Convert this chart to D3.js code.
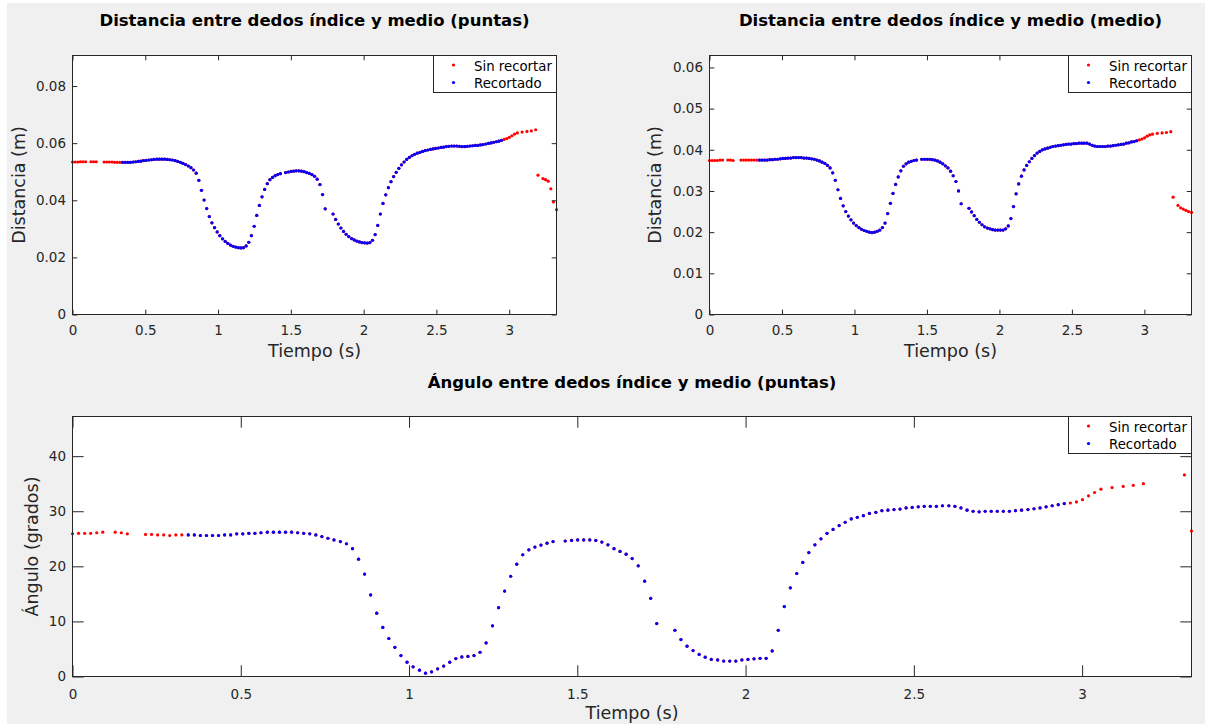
<!DOCTYPE html>
<html>
<head>
<meta charset="utf-8">
<script src="https://cdn.jsdelivr.net/npm/d3@7"></script>
<style>
  html, body { margin: 0; padding: 0; background: #ffffff; }
  svg { display: block; }
  text { font-family: "DejaVu Sans", sans-serif; }
</style>
</head>
<body>
<svg id="fig" width="1205" height="724"></svg>
<script>
// Sample times (s); frames without a measurement are absent
const tiempo = [
  0.000, 0.018, 0.036, 0.054, 0.072, 0.090, 0.127, 0.145, 0.163, 0.217,
  0.235, 0.253, 0.271, 0.289, 0.307, 0.325, 0.344, 0.362, 0.380, 0.398,
  0.416, 0.434, 0.452, 0.470, 0.488, 0.506, 0.524, 0.542, 0.560, 0.579,
  0.597, 0.615, 0.633, 0.651, 0.669, 0.687, 0.705, 0.723, 0.741, 0.759,
  0.777, 0.796, 0.814, 0.832, 0.850, 0.868, 0.886, 0.904, 0.922, 0.940,
  0.958, 0.976, 0.994, 1.012, 1.031, 1.049, 1.067, 1.085, 1.103, 1.121,
  1.139, 1.157, 1.175, 1.193, 1.211, 1.229, 1.248, 1.266, 1.284, 1.302,
  1.320, 1.338, 1.356, 1.374, 1.392, 1.410, 1.428, 1.464, 1.483, 1.501,
  1.519, 1.537, 1.555, 1.573, 1.591, 1.609, 1.627, 1.645, 1.663, 1.681,
  1.700, 1.718, 1.736, 1.790, 1.808, 1.826, 1.844, 1.862, 1.880, 1.898,
  1.917, 1.935, 1.953, 1.971, 1.989, 2.007, 2.025, 2.043, 2.061, 2.079,
  2.097, 2.115, 2.133, 2.152, 2.170, 2.188, 2.206, 2.224, 2.242, 2.260,
  2.278, 2.296, 2.314, 2.332, 2.350, 2.368, 2.387, 2.405, 2.423, 2.441,
  2.459, 2.477, 2.495, 2.513, 2.531, 2.549, 2.567, 2.585, 2.604, 2.622,
  2.640, 2.658, 2.676, 2.694, 2.712, 2.730, 2.748, 2.766, 2.784, 2.802,
  2.820, 2.839, 2.857, 2.875, 2.893, 2.911, 2.929, 2.947, 2.965, 2.983,
  3.001, 3.019, 3.037, 3.056, 3.089, 3.122, 3.152, 3.182, 3.198, 3.232,
  3.250, 3.268, 3.286, 3.304, 3.325
];

// Distance between index and middle fingertips (m)
const distanciaPuntas = [
  0.0534, 0.0534, 0.0534, 0.0535, 0.0535, 0.0535, 0.0535, 0.0535, 0.0535, 0.0534,
  0.0534, 0.0534, 0.0534, 0.0533, 0.0533, 0.0533, 0.0533, 0.0533, 0.0533, 0.0533,
  0.0534, 0.0535, 0.0536, 0.0537, 0.0539, 0.0540, 0.0541, 0.0542, 0.0543, 0.0544,
  0.0544, 0.0544, 0.0544, 0.0543, 0.0542, 0.0541, 0.0539, 0.0536, 0.0533, 0.0529,
  0.0525, 0.0520, 0.0514, 0.0506, 0.0495, 0.0470, 0.0435, 0.0401, 0.0371, 0.0343,
  0.0321, 0.0304, 0.0289, 0.0276, 0.0265, 0.0256, 0.0249, 0.0243, 0.0239, 0.0236,
  0.0234, 0.0233, 0.0234, 0.0240, 0.0253, 0.0276, 0.0309, 0.0347, 0.0382, 0.0412,
  0.0438, 0.0458, 0.0472, 0.0480, 0.0486, 0.0490, 0.0493, 0.0497, 0.0499, 0.0501,
  0.0502, 0.0503, 0.0503, 0.0502, 0.0500, 0.0497, 0.0494, 0.0490, 0.0484, 0.0474,
  0.0455, 0.0420, 0.0370, 0.0352, 0.0333, 0.0317, 0.0303, 0.0291, 0.0281, 0.0273,
  0.0266, 0.0261, 0.0257, 0.0254, 0.0252, 0.0251, 0.0250, 0.0252, 0.0260, 0.0280,
  0.0312, 0.0352, 0.0389, 0.0419, 0.0444, 0.0465, 0.0483, 0.0498, 0.0512, 0.0524,
  0.0534, 0.0543, 0.0550, 0.0556, 0.0561, 0.0565, 0.0568, 0.0571, 0.0574, 0.0576,
  0.0578, 0.0580, 0.0582, 0.0583, 0.0585, 0.0586, 0.0588, 0.0589, 0.0590, 0.0590,
  0.0590, 0.0589, 0.0588, 0.0588, 0.0589, 0.0590, 0.0591, 0.0592, 0.0592, 0.0594,
  0.0595, 0.0597, 0.0599, 0.0601, 0.0603, 0.0605, 0.0607, 0.0610, 0.0613, 0.0616,
  0.0620, 0.0626, 0.0632, 0.0636, 0.0639, 0.0641, 0.0643, 0.0647, 0.0488, 0.0476,
  0.0472, 0.0467, 0.0440, 0.0394, 0.0367
];

// Distance between index and middle finger middle joints (m)
const distanciaMedio = [
  0.0374, 0.0374, 0.0374, 0.0374, 0.0375, 0.0375, 0.0375, 0.0375, 0.0374, 0.0375,
  0.0375, 0.0375, 0.0375, 0.0375, 0.0375, 0.0375, 0.0375, 0.0375, 0.0375, 0.0375,
  0.0376, 0.0376, 0.0377, 0.0377, 0.0378, 0.0379, 0.0379, 0.0380, 0.0380, 0.0381,
  0.0381, 0.0381, 0.0381, 0.0380, 0.0380, 0.0379, 0.0378, 0.0377, 0.0375, 0.0373,
  0.0370, 0.0367, 0.0362, 0.0356, 0.0344, 0.0326, 0.0303, 0.0282, 0.0264, 0.0250,
  0.0239, 0.0230, 0.0222, 0.0216, 0.0211, 0.0207, 0.0204, 0.0202, 0.0200, 0.0199,
  0.0200, 0.0202, 0.0205, 0.0211, 0.0222, 0.0245, 0.0270, 0.0294, 0.0316, 0.0334,
  0.0349, 0.0360, 0.0366, 0.0370, 0.0372, 0.0374, 0.0375, 0.0377, 0.0377, 0.0377,
  0.0377, 0.0376, 0.0375, 0.0373, 0.0370, 0.0366, 0.0361, 0.0356, 0.0348, 0.0337,
  0.0323, 0.0300, 0.0269, 0.0258, 0.0249, 0.0240, 0.0231, 0.0224, 0.0218, 0.0213,
  0.0210, 0.0208, 0.0206, 0.0205, 0.0205, 0.0205, 0.0205, 0.0208, 0.0215, 0.0233,
  0.0262, 0.0293, 0.0317, 0.0336, 0.0351, 0.0362, 0.0371, 0.0379, 0.0386, 0.0392,
  0.0396, 0.0400, 0.0402, 0.0404, 0.0406, 0.0408, 0.0409, 0.0410, 0.0411, 0.0412,
  0.0413, 0.0414, 0.0414, 0.0415, 0.0415, 0.0416, 0.0416, 0.0416, 0.0416, 0.0414,
  0.0411, 0.0409, 0.0408, 0.0408, 0.0408, 0.0408, 0.0409, 0.0409, 0.0410, 0.0411,
  0.0412, 0.0413, 0.0414, 0.0416, 0.0417, 0.0419, 0.0420, 0.0422, 0.0424, 0.0426,
  0.0429, 0.0433, 0.0436, 0.0438, 0.0440, 0.0441, 0.0442, 0.0444, 0.0285, 0.0265,
  0.0259, 0.0256, 0.0253, 0.0250, 0.0248
];

// Angle between index and middle fingertips (degrees); null = not computed
const anguloPuntas = [
  25.9, 26.0, 26.0, 26.0, 26.1, 26.2, 26.2, 26.1, 25.9, 25.8,
  25.8, 25.7, 25.7, 25.6, 25.7, 25.7, 25.7, 25.7, 25.6, 25.6,
  25.6, 25.6, 25.7, 25.7, 25.9, 25.9, 26.0, 26.0, 26.1, 26.2,
  26.2, 26.2, 26.2, 26.2, 26.1, 26.0, 25.9, 25.7, 25.4, 25.1,
  24.8, 24.5, 24.1, 23.2, 21.3, 18.6, 14.8, 11.5, 8.9, 6.9,
  5.3, 3.8, 2.6, 1.75, 1.15, 0.6, 0.85, 1.4, 1.9, 2.6,
  3.25, 3.55, 3.65, 3.8, 4.4, 6.1, 9.2, 12.5, 15.5, 18.2,
  20.4, 22.1, 23.0, 23.5, 23.85, 24.2, 24.5, 24.6, 24.7, 24.8,
  24.8, 24.8, 24.7, 24.4, 23.9, 23.2, 22.7, 22.2, 21.4, 20.1,
  17.3, 14.2, 9.6, 8.4, 6.7, 5.5, 4.7, 4.0, 3.5, 3.1,
  3.0, 2.8, 2.8, 2.8, 3.0, 3.1, 3.2, 3.3, 3.3, 4.65,
  8.4, 12.7, 16.1, 18.7, 20.7, 22.5, 23.9, 25.0, 26.0, 26.7,
  27.4, 28.0, 28.6, 28.9, 29.2, 29.6, 29.8, 30.1, 30.2, 30.3,
  30.4, 30.6, 30.7, 30.8, 30.9, 30.9, 30.9, 31.0, 31.0, 30.9,
  30.6, 30.2, 30.0, 29.9, 30.0, 30.0, 30.0, 30.0, 30.0, 30.1,
  30.2, 30.3, 30.45, 30.6, 30.8, 31.0, 31.2, 31.4, 31.5, 31.7,
  32.1, 32.8, 33.4, 34.0, 34.3, 34.5, 34.7, 35.0, null, null,
  null, null, null, 36.6, 26.4
];

// Trimmed interval (s)
const recorteInicio = 0.34;
const recorteFin = 2.95;

const seriesNombres = ["Sin recortar", "Recortado"];
const seriesColores = ["#ff0000", "#0000ff"];

const ticksTiempo = [0, 0.5, 1, 1.5, 2, 2.5, 3];
const ticksPuntas = [0, 0.02, 0.04, 0.06, 0.08];
const ticksMedio = [0, 0.01, 0.02, 0.03, 0.04, 0.05, 0.06];
const ticksAngulo = [0, 10, 20, 30, 40];

const tiempoMax = 3.325;

// ---------------------------------------------------------------
const svg = d3.select("#fig");
const ink = "#262626";
const fmt = d3.format("~g");

svg.append("rect")
  .attr("x", 7).attr("y", 3).attr("width", 1198).attr("height", 721)
  .attr("fill", "#f0f0f0");

const paneles = [
  {
    titulo: "Distancia entre dedos índice y medio (puntas)",
    ylabel: "Distancia (m)", valores: distanciaPuntas,
    ymax: 0.0907, yticks: ticksPuntas,
    x0: 72.5, x1: 556.5, y0: 55.5, y1: 314.5,
    tick: 4.8, xpad: 10.9, tituloY: 25.5, xlabelY: 357, ylabelX: 24.5
  },
  {
    titulo: "Distancia entre dedos índice y medio (medio)",
    ylabel: "Distancia (m)", valores: distanciaMedio,
    ymax: 0.0629, yticks: ticksMedio,
    x0: 709.5, x1: 1191.5, y0: 55.5, y1: 314.5,
    tick: 4.8, xpad: 10.9, tituloY: 25.5, xlabelY: 357, ylabelX: 661
  },
  {
    titulo: "Ángulo entre dedos índice y medio (puntas)",
    ylabel: "Ángulo (grados)", valores: anguloPuntas,
    ymax: 47.2, yticks: ticksAngulo,
    x0: 72.5, x1: 1191.5, y0: 416.5, y1: 676.5,
    tick: 11.2, xpad: 12.6, tituloY: 387.5, xlabelY: 719, ylabelX: 37.5
  }
];

function estiloEje(g) {
  g.select(".domain").remove();
  g.selectAll(".tick line").attr("stroke", ink).attr("stroke-width", 1);
  g.selectAll(".tick text")
    .attr("fill", ink)
    .style("font-family", "'DejaVu Sans', sans-serif")
    .style("font-size", "13.5px");
}

paneles.forEach(p => {
  const x = d3.scaleLinear().domain([0, tiempoMax]).range([p.x0, p.x1]);
  const y = d3.scaleLinear().domain([0, p.ymax]).range([p.y1, p.y0]);
  const g = svg.append("g");

  // plotting area
  g.append("rect")
    .attr("x", p.x0).attr("y", p.y0)
    .attr("width", p.x1 - p.x0).attr("height", p.y1 - p.y0)
    .attr("fill", "#ffffff");

  const puntos = tiempo
    .map((t, i) => ({ t: t, v: p.valores[i] }))
    .filter(d => d.v !== null);
  const grupos = [
    puntos,
    puntos.filter(d => d.t >= recorteInicio && d.t <= recorteFin)
  ];

  grupos.forEach((datos, s) => {
    g.append("g").selectAll("circle")
      .data(datos)
      .join("circle")
      .attr("cx", d => x(d.t))
      .attr("cy", d => y(d.v))
      .attr("r", 1.6)
      .attr("fill", seriesColores[s]);
  });

  // axes with inward ticks on all four sides
  g.append("g").attr("transform", `translate(0,${p.y1})`)
    .call(d3.axisBottom(x).tickValues(ticksTiempo).tickFormat(fmt)
      .tickSizeInner(-p.tick).tickSizeOuter(0).tickPadding(p.xpad))
    .call(estiloEje);
  g.append("g").attr("transform", `translate(0,${p.y0})`)
    .call(d3.axisTop(x).tickValues(ticksTiempo).tickFormat("")
      .tickSizeInner(-p.tick).tickSizeOuter(0))
    .call(estiloEje);
  g.append("g").attr("transform", `translate(${p.x0},0)`)
    .call(d3.axisLeft(y).tickValues(p.yticks).tickFormat(fmt)
      .tickSizeInner(-p.tick).tickSizeOuter(0).tickPadding(6.5))
    .call(estiloEje);
  g.append("g").attr("transform", `translate(${p.x1},0)`)
    .call(d3.axisRight(y).tickValues(p.yticks).tickFormat("")
      .tickSizeInner(-p.tick).tickSizeOuter(0))
    .call(estiloEje);

  g.append("rect")
    .attr("x", p.x0).attr("y", p.y0)
    .attr("width", p.x1 - p.x0).attr("height", p.y1 - p.y0)
    .attr("fill", "none").attr("stroke", ink).attr("stroke-width", 1);

  // titles and labels
  const cx = (p.x0 + p.x1) / 2;
  g.append("text")
    .attr("x", cx).attr("y", p.tituloY)
    .attr("text-anchor", "middle")
    .attr("font-weight", "bold").attr("font-size", "16.5px")
    .attr("fill", "#000")
    .text(p.titulo);
  g.append("text")
    .attr("x", cx).attr("y", p.xlabelY)
    .attr("text-anchor", "middle")
    .attr("font-size", "17.5px").attr("fill", ink)
    .text("Tiempo (s)");
  g.append("text")
    .attr("transform", `translate(${p.ylabelX},${(p.y0 + p.y1) / 2}) rotate(-90)`)
    .attr("text-anchor", "middle")
    .attr("font-size", "17.5px").attr("fill", ink)
    .text(p.ylabel);

  // legend
  const lw = 123, lh = 37;
  const lx = p.x1 - lw, ly = p.y0;
  const leg = g.append("g");
  leg.append("rect")
    .attr("x", lx).attr("y", ly).attr("width", lw).attr("height", lh)
    .attr("fill", "#ffffff").attr("stroke", ink).attr("stroke-width", 1);
  seriesNombres.forEach((nombre, s) => {
    leg.append("circle")
      .attr("cx", lx + 20).attr("cy", ly + 9.5 + s * 17.5)
      .attr("r", 1.6).attr("fill", seriesColores[s]);
    leg.append("text")
      .attr("x", lx + 40.5).attr("y", ly + 15 + s * 17.5)
      .attr("font-size", "13.3px").attr("fill", "#000")
      .text(nombre);
  });
});
</script>
</body>
</html>
